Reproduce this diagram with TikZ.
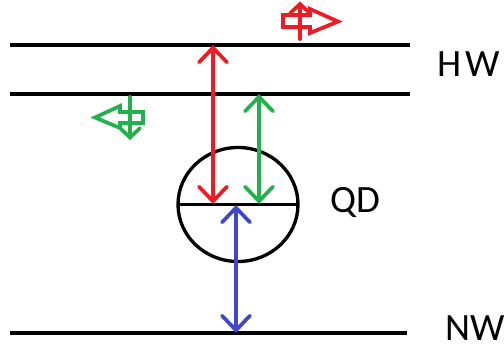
\documentclass[tikz,border=0pt]{standalone}
\usepackage{fontspec}
\setmainfont{Carlito}
\usetikzlibrary{arrows.meta}
\definecolor{pred}{RGB}{237,28,36}
\definecolor{pgreen}{RGB}{34,177,76}
\definecolor{pblue}{RGB}{63,72,204}
\tikzset{
  bigtip/.tip={Straight Barb[length=11pt, width=21pt, line cap=round]},
  smalltip/.tip={Straight Barb[length=7pt, width=15pt, line cap=round]},
  level/.style={line width=2.8pt, black},
  transition/.style={line width=2.8pt, line cap=round, bigtip-bigtip},
  iconarrow/.style={line width=2.8pt, line cap=round, -smalltip},
  blockarrow/.style={line width=2.8pt, line join=miter},
  lbl/.style={anchor=base west, inner sep=0pt, font=\fontsize{29}{32}\selectfont}
}
\begin{document}
\begin{tikzpicture}[x=0.75pt, y=-0.75pt]
\useasboundingbox (0,0) rectangle (504,352);
% levels
\coordinate (hw1l) at (10,45);  \coordinate (hw1r) at (410,45);
\coordinate (hw2l) at (10,94);  \coordinate (hw2r) at (410,94);
\coordinate (nwl) at (10,333);  \coordinate (nwr) at (407,333);
\draw[level] (hw1l) -- (hw1r);
\draw[level] (hw2l) -- (hw2r);
\draw[level] (nwl) -- (nwr);
% quantum dot
\coordinate (qd) at (238,204.5);
\draw[level, line width=2.5pt] (qd) ellipse [x radius=60, y radius=57];
\coordinate (qdl) at (178,204.5); \coordinate (qdr) at (298,204.5);
\draw[level] (qdl) -- (qdr);
% transitions
\coordinate (r1) at (213,45);  \coordinate (r2) at (213,204);
\coordinate (g1) at (259,94);  \coordinate (g2) at (259,204);
\coordinate (b1) at (236,205); \coordinate (b2) at (236,333);
\draw[transition, pred] (r1) -- (r2);
\draw[transition, pgreen] (g1) -- (g2);
\draw[transition, pblue] (b1) -- (b2);
% labels
\node[lbl] (hw) at (437,77) {H\kern3pt W};
\node[lbl] (qdlab) at (330,213) {QD};
\node[lbl] (nw) at (445,341) {NW};
% red icon
\draw[blockarrow, pred] (283,15) -- (310,15) -- (310,9) -- (338,21.5) -- (310,33) -- (310,27) -- (283,27) -- cycle;
\coordinate (ra1) at (300,39); \coordinate (ra2) at (300,1.5);
\draw[iconarrow, pred] (ra1) -- (ra2);
% green icon
\draw[blockarrow, pgreen] (143,112) -- (120,112) -- (120,106) -- (95,117.5) -- (120,128) -- (120,123) -- (143,123) -- cycle;
\coordinate (ga1) at (130,97); \coordinate (ga2) at (130,140);
\draw[iconarrow, pgreen] (ga1) -- (ga2);
\end{tikzpicture}
\end{document}
